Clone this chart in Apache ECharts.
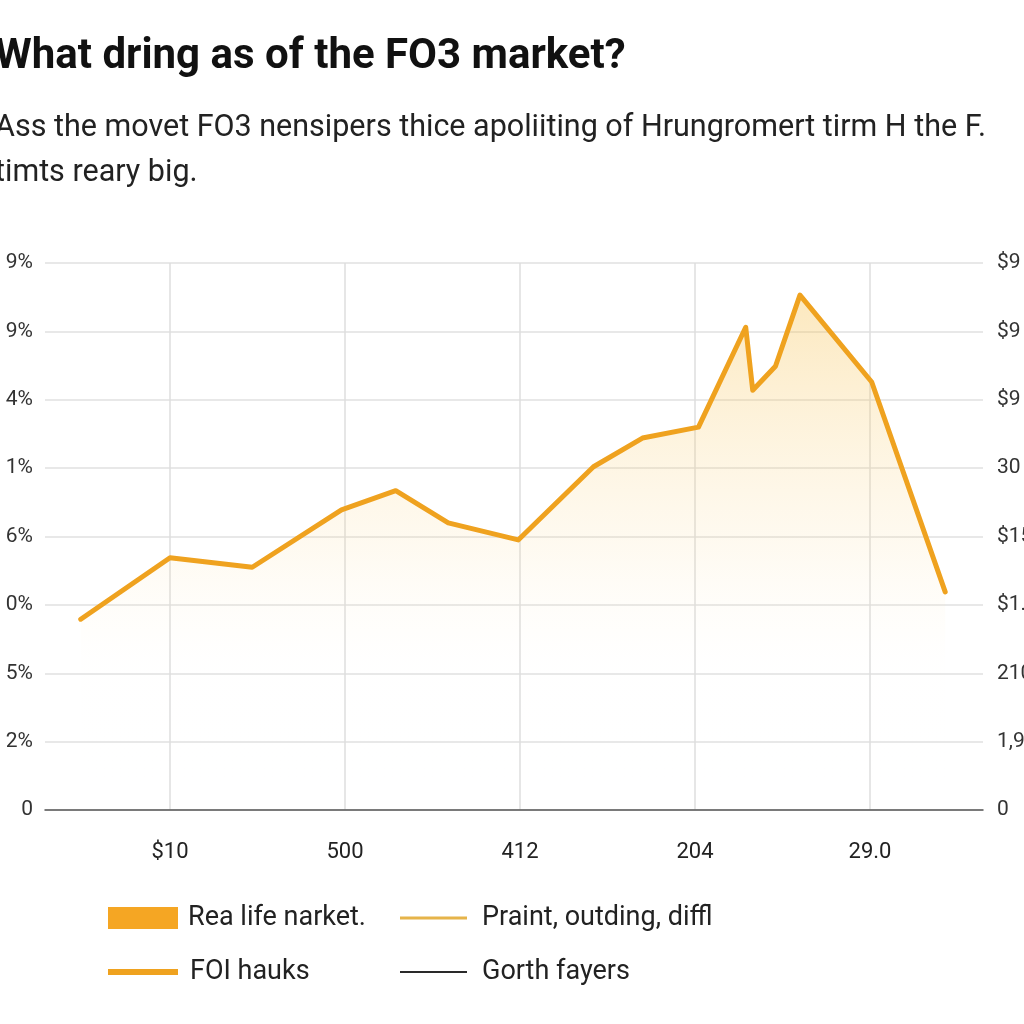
<!DOCTYPE html>
<html>
<head>
<meta charset="utf-8">
<script src="https://cdn.jsdelivr.net/npm/echarts@6/dist/echarts.min.js"></script>
<style>
html,body{margin:0;padding:0;background:#ffffff;}
#chart{width:1024px;height:1024px;}
</style>
</head>
<body>
<div id="chart"></div>
<script>
// ---- data ----
const titleText = 'What dring as of the FO3 market?';
const subtitleText = 'Ass the movet FO3 nensipers thice apoliiting of Hrungromert tirm H the F.\ntimts reary big.';
const xTickLabels = ['$10', '500', '412', '204', '29.0'];
const leftTickLabels = ['0', '2%', '5%', '0%', '6%', '1%', '4%', '9%', '9%'];
const rightTickLabels = ['0', '1,9', '210', '$1.', '$15', '30', '$9', '$9', '$9'];
const xValues = [-0.51, 0, 0.47, 0.98, 1.29, 1.59, 1.99, 2.42, 2.70, 3.02, 3.29, 3.33, 3.46, 3.60, 4.01, 4.43];
const yValues = [2.79, 3.69, 3.55, 4.39, 4.67, 4.20, 3.95, 5.02, 5.44, 5.60, 7.06, 6.14, 6.49, 7.53, 6.26, 3.19];
const legendNames = ['Rea life narket.', 'Praint, outding, diffl', 'FOI hauks', 'Gorth fayers'];

const points = xValues.map((x, i) => [x, yValues[i]]);
const FONT = 'Roboto';

const chart = echarts.init(document.getElementById('chart'), null, {renderer: 'canvas'});

function legendAt(left, top, name, icon, width, pad) {
  return {
    orient: 'horizontal',
    left: left, top: top,
    padding: 0,
    itemGap: 0,
    itemWidth: width,
    itemHeight: 30,
    selectedMode: false,
    itemStyle: {borderWidth: 0},
    data: [{name: name, icon: icon}],
    textStyle: {fontFamily: FONT, fontSize: 27, color: '#222', lineHeight: 30, padding: [0, 0, 0, pad]}
  };
}

const option = {
  backgroundColor: '#ffffff',
  animation: false,
  title: {
    text: titleText,
    subtext: subtitleText,
    left: -5,
    top: 33,
    itemGap: 25,
    padding: 0,
    textStyle: {fontFamily: FONT, fontSize: 42, fontWeight: 'bold', color: '#111', lineHeight: 48},
    subtextStyle: {fontFamily: FONT, fontSize: 30.5, color: '#222', lineHeight: 45}
  },
  legend: [
    legendAt(108, 903, legendNames[0], 'path://M0,0 H70 V22 H0 Z', 70, 5),
    legendAt(400, 903, legendNames[1], 'path://M0,0 H67 V3 H0 Z', 67, 10),
    legendAt(108, 957, legendNames[2], 'path://M0,0 H70 V6 H0 Z', 70, 7),
    legendAt(400, 957, legendNames[3], 'path://M0,0 H67 V2 H0 Z', 67, 10)
  ],
  grid: [
    {left: 45, right: 41, top: 263, bottom: 214, containLabel: false, outerBoundsMode: 'none'},
    {left: 170, right: 154, top: 263, bottom: 214, containLabel: false, outerBoundsMode: 'none'}
  ],
  xAxis: [
    {
      type: 'value', gridIndex: 0, min: -0.7143, max: 4.646,
      axisLine: {show: true, lineStyle: {color: '#555', width: 1.5}},
      axisTick: {show: false}, axisLabel: {show: false}, splitLine: {show: false}
    },
    {
      type: 'value', gridIndex: 1, min: 0, max: 4, interval: 1,
      axisLine: {show: false}, axisTick: {show: false},
      axisLabel: {
        show: true, margin: 31, fontFamily: FONT, fontSize: 22, color: '#222',
        formatter: v => xTickLabels[Math.round(v)] ?? ''
      },
      splitLine: {show: true, lineStyle: {color: '#dedede', width: 1.5}}
    }
  ],
  yAxis: [
    {
      type: 'value', gridIndex: 0, min: 0, max: 8, interval: 1, position: 'left',
      axisLine: {show: false}, axisTick: {show: false},
      axisLabel: {margin: 12, fontFamily: FONT, fontSize: 21, color: '#333',
        formatter: v => leftTickLabels[Math.round(v)] ?? ''},
      splitLine: {show: true, lineStyle: {color: '#e0e0e0', width: 1.5}}
    },
    {
      type: 'value', gridIndex: 0, min: 0, max: 8, interval: 1, position: 'right',
      axisLine: {show: false}, axisTick: {show: false},
      axisLabel: {margin: 14, fontFamily: FONT, fontSize: 21, color: '#333',
        formatter: v => rightTickLabels[Math.round(v)] ?? ''},
      splitLine: {show: false}
    },
    {
      type: 'value', gridIndex: 1, min: 0, max: 8, interval: 1, show: false
    }
  ],
  series: [
    {
      name: legendNames[0], type: 'line', xAxisIndex: 0, yAxisIndex: 0,
      data: points, symbol: 'none', color: '#F5A623',
      lineStyle: {width: 0, opacity: 0},
      areaStyle: {
        color: new echarts.graphic.LinearGradient(0, 0, 0, 1, [
          {offset: 0, color: 'rgba(246,190,70,0.5)'},
          {offset: 0.5, color: 'rgba(250,215,140,0.17)'},
          {offset: 0.72, color: 'rgba(255,240,210,0.02)'},
          {offset: 1, color: 'rgba(255,255,255,0)'}
        ])
      },
      z: 2
    },
    {
      name: legendNames[1], type: 'line', xAxisIndex: 0, yAxisIndex: 0,
      data: [], symbol: 'none', color: '#E6B44A', lineStyle: {width: 3}
    },
    {
      name: legendNames[2], type: 'line', xAxisIndex: 0, yAxisIndex: 0,
      data: points, symbol: 'none', color: '#EFA21F',
      lineStyle: {width: 5, join: 'round', cap: 'round'}, z: 3
    },
    {
      name: legendNames[3], type: 'line', xAxisIndex: 0, yAxisIndex: 0,
      data: [], symbol: 'none', color: '#2a2a2a', lineStyle: {width: 2}
    }
  ]
};

chart.setOption(option);
</script>
</body>
</html>
